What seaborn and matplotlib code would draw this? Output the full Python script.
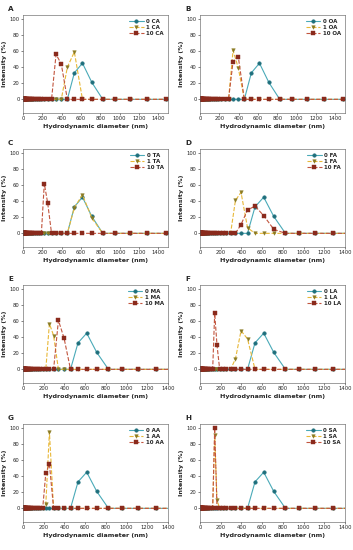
import pandas as pd
import matplotlib
matplotlib.use("Agg")
import matplotlib.pyplot as plt
import seaborn as sns

# DLS size bins (nm)
sizes = [0.4, 0.4632, 0.5365, 0.6213, 0.7195, 0.8332, 0.9649, 1.117, 1.294, 1.499,
         1.736, 2.01, 2.328, 2.696, 3.122, 3.615, 4.187, 4.849, 5.615, 6.503,
         7.531, 8.721, 10.1, 11.7, 13.54, 15.69, 18.17, 21.04, 24.36, 28.21,
         32.67, 37.84, 43.82, 50.75, 58.77, 68.06, 78.82, 91.28, 105.7, 122.4,
         141.8, 164.2, 190.1, 220.2, 255.0, 295.3, 342.0, 396.1, 458.7, 531.2,
         615.1, 712.4, 825.0, 955.4, 1106, 1281, 1484]

panel_letters = ["A", "B", "C", "D", "E", "F", "G", "H"]
acids = ["CA", "OA", "TA", "FA", "MA", "LA", "AA", "SA"]
x_max = [1500, 1500, 1500, 1400, 1400, 1400, 1400, 1400]

# non-zero intensities (%) per bin, all other bins are 0
control = {531.2: 33, 615.1: 45, 712.4: 21}
low_dose = [
    {458.7: 40, 531.2: 59},
    {342.0: 61, 396.1: 39},
    {531.2: 32, 615.1: 48, 712.4: 19},
    {342.0: 41, 396.1: 51, 458.7: 7},
    {255.0: 57, 295.3: 42},
    {342.0: 13, 396.1: 48, 458.7: 38},
    {220.2: 5, 255.0: 95},
    {141.8: 91, 164.2: 10},
]
high_dose = [
    {342.0: 56, 396.1: 44},
    {342.0: 47, 396.1: 53},
    {220.2: 62, 255.0: 38},
    {396.1: 11, 458.7: 29, 531.2: 34, 615.1: 22, 712.4: 5},
    {342.0: 61, 396.1: 39},
    {141.8: 70, 164.2: 30},
    {220.2: 44, 255.0: 55},
    {141.8: 100},
]

styles = [
    ("0", "#4aaab8", "#1f6f7c", "-", "o"),
    ("1", "#e8b838", "#8a7a22", "--", "v"),
    ("10", "#c2553e", "#8a2a1c", "--", "s"),
]

sns.set_style("ticks")
plt.rcParams["font.family"] = ["DejaVu Sans"]

fig = plt.figure(figsize=(3.53, 5.5), dpi=100)
W, H = 353, 550
col_left = [23, 200]
row_top = [15, 149, 285, 424]
aw, ah = 145, 98

for i in range(8):
    r, c = divmod(i, 2)
    l, t = col_left[c], row_top[r]
    ax = fig.add_axes([l / W, 1 - (t + ah) / H, aw / W, ah / H])
    for (dose, lc, mc, ls, mk), peaks in zip(styles, [control, low_dose[i], high_dose[i]]):
        df = pd.DataFrame({"size": sizes, "intensity": [peaks.get(s, 0) for s in sizes]})
        sns.lineplot(data=df, x="size", y="intensity", ax=ax, color=lc, linestyle=ls,
                     linewidth=0.8, marker=mk, markersize=2.6, markerfacecolor=mc,
                     markeredgecolor=mc, markeredgewidth=0.3, estimator=None,
                     sort=False, label=f"{dose} {acids[i]}")
    ax.set_xlim(0, x_max[i])
    ax.set_ylim(-17, 105)
    ax.set_xticks(range(0, 1401, 200))
    ax.set_yticks(range(0, 101, 20))
    ax.tick_params(labelsize=3.8, length=1.5, width=0.4, pad=1)
    for sp in ax.spines.values():
        sp.set_linewidth(0.4)
        sp.set_color("#555555")
    ax.set_xlabel("Hydrodynamic diameter (nm)", fontsize=4.6, fontweight="bold", labelpad=2)
    ax.set_ylabel("Intensity (%)", fontsize=4.6, fontweight="bold", labelpad=1.5)
    leg = ax.legend(loc="upper right", frameon=False, fontsize=4, handlelength=2.6,
                    borderaxespad=0.3, labelspacing=0.15, handletextpad=0.5)
    for txt in leg.get_texts():
        txt.set_fontweight("bold")
    fig.text((l - 15) / W, 1 - (t - 6) / H, panel_letters[i], fontsize=5.2,
             fontweight="bold", va="center", ha="left")

fig.savefig("out.png", dpi=100)
